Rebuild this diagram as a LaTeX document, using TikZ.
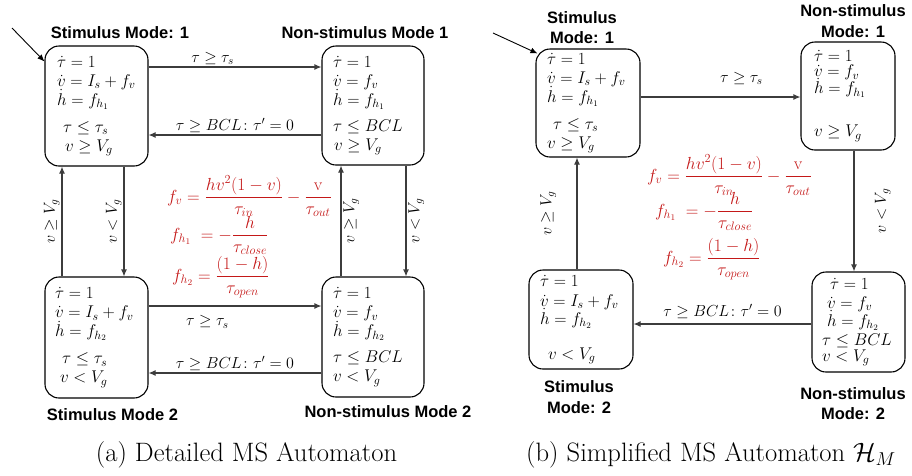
\RequirePackage{fix-cm}
\documentclass[tikz,border=0pt]{standalone}
\usepackage{amsmath}
\usepackage{fontspec}
\usetikzlibrary{arrows.meta,calc}
\newfontfamily\labelsans{Liberation Sans}
\definecolor{eqred}{RGB}{196,24,24}
\definecolor{linegray}{RGB}{60,60,60}
\newcommand{\mfont}{\fontsize{16}{19}\selectfont}
\newcommand{\boxfont}{\fontsize{17}{19}\selectfont}
\newcommand{\eqfont}{\fontsize{17.5}{20}\selectfont}
\begin{document}
\begin{tikzpicture}[x=1pt,y=-1pt,
  mode/.style={draw=black, line width=1.1pt, rounded corners=14pt, align=left,
    inner ysep=0pt, font=\boxfont},
  arr/.style={draw=linegray, line width=1.1pt, -{Latex[length=7pt,width=6pt]}},
  initarr/.style={draw=black, line width=0.9pt, -{Latex[length=7pt,width=6pt]}},
  mlabel/.style={font=\labelsans\bfseries\fontsize{16.5}{20.5}\selectfont, align=center, inner sep=0pt},
  elab/.style={font=\mfont, inner sep=2pt},
  redeq/.style={text=eqred, font=\eqfont, inner sep=0pt, anchor=base west},
  captext/.style={font=\fontsize{26.6}{31}\selectfont, anchor=base, inner sep=0pt}]
\useasboundingbox (0,0) rectangle (912,475);

% ---------------- (a) detailed automaton ----------------
\node[mode, inner xsep=12pt, text width=79pt, minimum height=120pt] (a1) at (96.5,106)
  {$\dot\tau = 1$\\ $\dot v = I_s + f_v$\\ $\dot h = f_{h_1}$\\[8pt]
   \hspace*{6pt}$\tau \le \tau_s$\\ \hspace*{8pt}$v \ge V_g$};
\node[mode, inner xsep=11pt, text width=80pt, minimum height=119pt] (n1) at (373,105.5)
  {$\dot\tau = 1$\\ $\dot v = f_v$\\ $\dot h = f_{h_1}$\\[7pt]
   $\tau \le BCL$\\ \hspace*{1pt}$v \ge V_g$};
\node[mode, inner xsep=10pt, text width=83pt, minimum height=121pt] (a2) at (96.5,337.5)
  {$\dot\tau = 1$\\ $\dot v = I_s + f_v$\\ $\dot h = f_{h_2}$\\[8pt]
   \hspace*{7pt}$\tau \le \tau_s$\\ \hspace*{5pt}$v < V_g$};
\node[mode, inner xsep=11pt, text width=80pt, minimum height=120pt] (n2) at (373,337)
  {$\dot\tau = 1$\\ $\dot v = f_v$\\ $\dot h = f_{h_2}$\\[7pt]
   $\tau \le BCL$\\ $v < V_g$};

\node[mlabel] (la1) at (120,33) {Stimulus Mode: 1};
\node[mlabel] (ln1) at (365,33) {Non-stimulus Mode 1};
\node[mlabel] (la2) at (112.5,415) {Stimulus Mode 2};
\node[mlabel] (ln2) at (388,412) {Non-stimulus Mode 2};

\coordinate (s0) at (12,28);
\draw[initarr] (s0) -- ($(a1.north west)+(0,16)$);

\draw[arr] ($(a1.east)+(0,-39)$) coordinate (p1) -- (p1 -| n1.west)
  node[elab, above, pos=0.37] {$\tau \ge \tau_s$};
\draw[arr] ($(n1.west)+(0,29.5)$) coordinate (p2) -- (p2 -| a1.east)
  node[elab, above, midway] {$\tau \ge BCL\colon \tau' = 0$};
\draw[arr] ($(a2.north)+(-34.5,0)$) coordinate (p3) -- (p3 |- a1.south)
  node[elab, midway, rotate=90, anchor=south] {$v \ge V_g$};
\draw[arr] ($(a1.south)+(27.5,0)$) coordinate (p4) -- (p4 |- a2.north)
  node[elab, midway, rotate=90, anchor=south] {$v < V_g$};
\draw[arr] ($(n2.north)+(-32,0)$) coordinate (p5) -- (p5 |- n1.south)
  node[elab, midway, rotate=90, anchor=north] {$v \ge V_g$};
\draw[arr] ($(n1.south)+(33,0)$) coordinate (p6) -- (p6 |- n2.north)
  node[elab, midway, rotate=90, anchor=north] {$v < V_g$};
\draw[arr] ($(a2.east)+(0,-31.5)$) coordinate (p7) -- (p7 -| n2.west)
  node[elab, below=7pt, pos=0.34] {$\tau \ge \tau_s$};
\draw[arr] ($(n2.west)+(0,36)$) coordinate (p8) -- (p8 -| a2.east)
  node[elab, above, midway] {$\tau \ge BCL\colon \tau' = 0$};

% flow functions
\node[redeq] (fva) at (167,202)
  {$f_v = \dfrac{hv^2(1-v)}{\tau_{in}} - \genfrac{}{}{1.6pt}{0}{\mathrm{v}}{\tau_{out}}$};
\node[redeq] (fh1a) at (170,240) {$f_{h_1} \;= -\dfrac{h}{\tau_{close}}$};
\node[redeq] (fh2a) at (172,281) {$f_{h_2} = \dfrac{(1-h)}{\tau_{open}}$};

% ---------------- (b) simplified automaton ----------------
\node[mode, inner xsep=11pt, text width=82pt, minimum height=108pt] (b1) at (588,103)
  {$\dot\tau = 1$\\ $\dot v = I_s + f_v$\\ $\dot h = f_{h_1}$\\[8pt]
   \hspace*{6pt}$\tau \le \tau_s$\\ $v \ge V_g$};
\node[mode, inner xsep=13pt, text width=68pt, minimum height=108pt] (m1) at (848,96)
  {$\dot\tau = 1$\\[-4pt] $\dot v = f_v$\\[-2pt] $\dot h = f_{h_1}$\\[24pt]
   $v \ge V_g$};
\node[mode, inner xsep=7pt, text width=79pt, minimum height=100pt] (m2) at (858.5,322)
  {\hspace*{11pt}$\dot\tau = 1$\\ \hspace*{8pt}$\dot v = f_v$\\[-1pt] \hspace*{8pt}$\dot h = f_{h_2}$\\
   \hspace*{3pt}$\tau \le BCL$\\[-3pt] \hspace*{3pt}$v < V_g$};
\node[mode, inner xsep=11pt, text width=82pt, minimum height=99pt] (b2) at (581,319.5)
  {$\dot\tau = 1$\\[1pt] $\dot v = I_s + f_v$\\[-1pt] $\dot h = f_{h_2}$\\[16pt]
   \hspace*{8pt}$v < V_g$};

\node[mlabel] (lb1) at (582,27.5) {Stimulus\\Mode: 1};
\node[mlabel] (lm1) at (853,21) {Non-stimulus\\Mode: 1};
\node[mlabel] (lb2) at (579,397) {Stimulus\\Mode: 2};
\node[mlabel] (lm2) at (853,403.5) {Non-stimulus\\Mode: 2};

\coordinate (s1) at (493,33);
\draw[initarr] (s1) -- ($(b1.north west)+(2,5)$);

\draw[arr] ($(b1.east)+(0,-6)$) coordinate (q1) -- (q1 -| m1.west)
  node[elab, above=10pt, pos=0.63] {$\tau \ge \tau_s$};
\draw[arr] ($(b2.north)+(-4,0)$) coordinate (q2) -- (q2 |- b1.south)
  node[elab, midway, rotate=90, anchor=south, outer sep=19pt] {$v \ge V_g$};
\draw[arr] ($(m1.south)+(6,0)$) coordinate (q3) -- (q3 |- m2.north)
  node[elab, midway, rotate=90, anchor=north, outer sep=19pt] {$v < V_g$};
\draw[arr] ($(m2.west)+(0,2)$) coordinate (q4) -- (q4 -| b2.east)
  node[elab, above=3pt, midway] {$\tau \ge BCL\colon \tau' = 0$};

\node[redeq] (fvb) at (647,181)
  {$f_v = \dfrac{hv^2(1-v)}{\tau_{in}} - \genfrac{}{}{1.6pt}{0}{\mathrm{v}}{\tau_{out}}$};
\node[redeq] (fh1b) at (655,216) {$f_{h_1} \;= -\dfrac{h}{\tau_{close}}$};
\node[redeq] (fh2b) at (663,263) {$f_{h_2} = \dfrac{(1-h)}{\tau_{open}}$};

% captions
\node[captext] (capa) at (246.5,461) {(a) Detailed MS Automaton};
\node[captext] (capb) at (711,461) {(b) Simplified MS Automaton $\mathcal{H}_M$};
\end{tikzpicture}
\end{document}
